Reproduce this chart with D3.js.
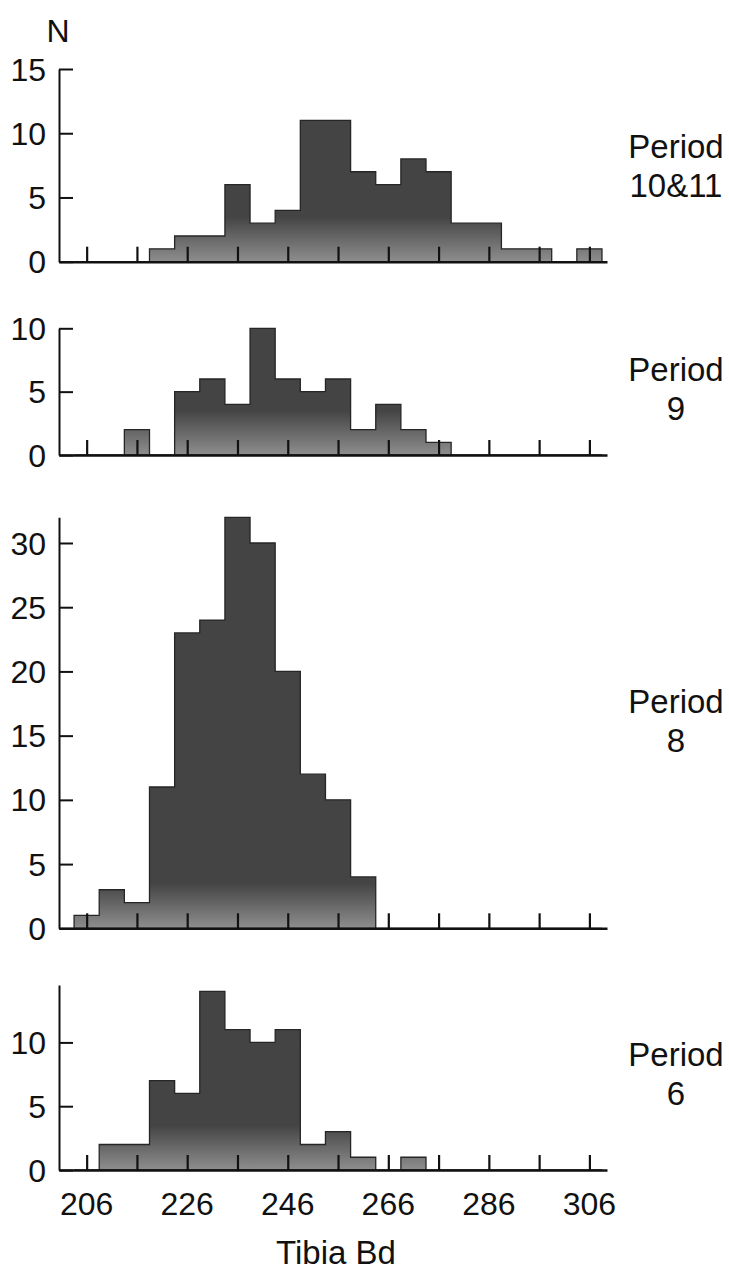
<!DOCTYPE html>
<html>
<head>
<meta charset="utf-8">
<script src="https://cdn.jsdelivr.net/npm/d3@7"></script>
<style>
  body { margin: 0; background: #fff; }
  text { font-family: "Liberation Sans", Arial, sans-serif; fill: #111; }
</style>
</head>
<body>
<div id="chart"></div>
<script>
// bin centres (Tibia Bd), bins are 5 wide
var binCenters = [206, 211, 216, 221, 226, 231, 236, 241, 246, 251, 256,
                  261, 266, 271, 276, 281, 286, 291, 296, 301, 306];
var binWidth = 5;

// counts per period
var period1011 = [0, 0, 0, 1, 2, 2, 6, 3, 4, 11, 11, 7, 6, 8, 7, 3, 3, 1, 1, 0, 1];
var period9    = [0, 0, 2, 0, 5, 6, 4, 10, 6, 5, 6, 2, 4, 2, 1, 0, 0, 0, 0, 0, 0];
var period8    = [1, 3, 2, 11, 23, 24, 32, 30, 20, 12, 10, 4, 0, 0, 0, 0, 0, 0, 0, 0, 0];
var period6    = [0, 2, 2, 7, 6, 14, 11, 10, 11, 2, 3, 1, 0, 1, 0, 0, 0, 0, 0, 0, 0];

var xTicks = [206, 216, 226, 236, 246, 256, 266, 276, 286, 296, 306];
var xTickLabels = [206, 226, 246, 266, 286, 306];

var panels = [
  {label: ["Period", "10&11"], counts: period1011, yMax: 15,   yTicks: [0, 5, 10, 15], base: 261.7, top: 69,    labelY: 146},
  {label: ["Period", "9"],     counts: period9,    yMax: 10,   yTicks: [0, 5, 10],     base: 455,   top: 328.3, labelY: 369},
  {label: ["Period", "8"],     counts: period8,    yMax: 32,   yTicks: [0, 5, 10, 15, 20, 25, 30], base: 928.3, top: 517.3, labelY: 701},
  {label: ["Period", "6"],     counts: period6,    yMax: 14.5, yTicks: [0, 5, 10],     base: 1170,  top: 985,   labelY: 1054}
];

var width = 729, height = 1273;

var svg = d3.select("#chart").append("svg")
    .attr("width", width)
    .attr("height", height);

var x = d3.scaleLinear()
    .domain([200.5, 309.5])
    .range([59, 607]);

var defs = svg.append("defs");

panels.forEach(function(p, i) {
  var y = d3.scaleLinear()
      .domain([0, p.yMax])
      .range([p.base, p.top]);

  // print is lighter near the baseline
  var grad = defs.append("linearGradient")
      .attr("id", "fill" + i)
      .attr("gradientUnits", "userSpaceOnUse")
      .attr("x1", 0).attr("x2", 0)
      .attr("y1", y(0)).attr("y2", y(3.5));
  grad.append("stop").attr("offset", 0).attr("stop-color", "#8e8e8e");
  grad.append("stop").attr("offset", 1).attr("stop-color", "#444");

  var bins = binCenters.map(function(c, j) {
    return {x0: c - binWidth / 2, x1: c + binWidth / 2, n: p.counts[j]};
  });

  var g = svg.append("g");

  // histogram as one stepped shape, so no seams between bars
  var pts = [[bins[0].x0, 0]];
  bins.forEach(function(d) { pts.push([d.x0, d.n]); pts.push([d.x1, d.n]); });
  pts.push([bins[bins.length - 1].x1, 0]);
  g.append("path")
    .attr("d", d3.line().x(d => x(d[0])).y(d => y(d[1]))(pts) + "Z")
    .attr("fill", "url(#fill" + i + ")")
    .attr("stroke", "#262626")
    .attr("stroke-width", 1.3);

  // y axis, ticks pointing inward
  var yAxis = g.append("g")
      .attr("transform", "translate(59,0)")
      .call(d3.axisRight(y).tickValues(p.yTicks).tickSize(14).tickSizeOuter(0).tickFormat(""));
  yAxis.select(".domain").attr("stroke", "#111").attr("stroke-width", 2);
  yAxis.selectAll(".tick line").attr("stroke", "#111").attr("stroke-width", 2);

  g.selectAll(".ylab")
    .data(p.yTicks)
    .join("text")
      .attr("class", "ylab")
      .attr("x", 46)
      .attr("y", d => y(d))
      .attr("dy", "0.36em")
      .attr("text-anchor", "end")
      .attr("font-size", 32)
      .text(d => d);

  // x axis, ticks pointing up
  var xAxis = g.append("g")
      .attr("transform", "translate(0," + y(0) + ")")
      .call(d3.axisTop(x).tickValues(xTicks).tickSize(15).tickSizeOuter(0).tickFormat(""));
  xAxis.select(".domain").attr("stroke", "#111").attr("stroke-width", 2.6);
  xAxis.selectAll(".tick line").attr("stroke", "#111").attr("stroke-width", 2.2);

  if (i === panels.length - 1) {
    g.selectAll(".xlab")
      .data(xTickLabels)
      .join("text")
        .attr("class", "xlab")
        .attr("x", d => x(d))
        .attr("y", y(0) + 33)
        .attr("dy", "0.36em")
        .attr("text-anchor", "middle")
        .attr("font-size", 32)
        .text(d => d);
  }

  // period label on the right
  g.append("text")
    .attr("text-anchor", "middle")
    .attr("font-size", 33)
    .selectAll("tspan")
    .data(p.label)
    .join("tspan")
      .attr("x", 676)
      .attr("y", (d, k) => p.labelY + k * 39)
      .attr("dy", "0.36em")
      .text(d => d);
});

svg.append("text")
  .attr("x", 58)
  .attr("y", 30)
  .attr("dy", "0.36em")
  .attr("text-anchor", "middle")
  .attr("font-size", 32)
  .text("N");

svg.append("text")
  .attr("x", 336)
  .attr("y", 1252)
  .attr("dy", "0.36em")
  .attr("text-anchor", "middle")
  .attr("font-size", 33)
  .text("Tibia Bd");
</script>
</body>
</html>
